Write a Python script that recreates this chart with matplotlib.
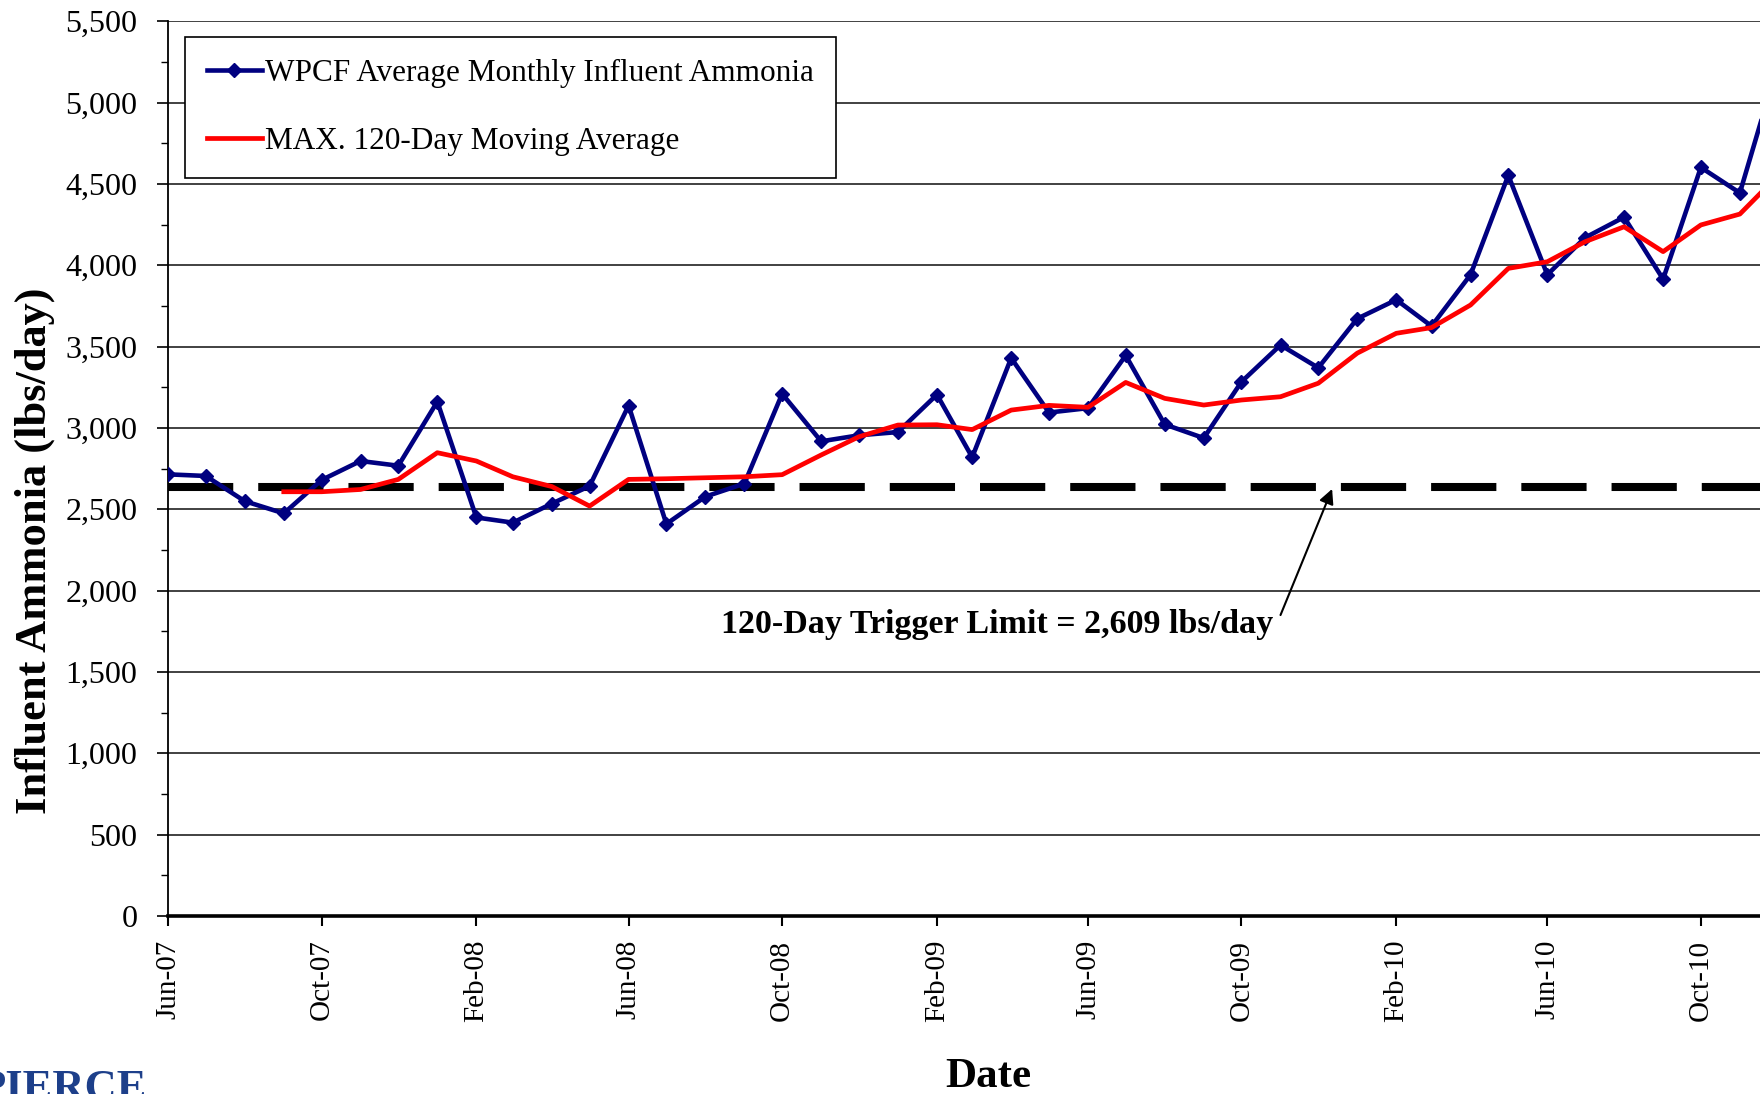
import datetime as dt

import matplotlib
matplotlib.use("Agg")
import matplotlib.pyplot as plt
import matplotlib.dates as mdates
from matplotlib.ticker import FuncFormatter, MultipleLocator

# monthly points, Jun-07 .. Dec-10
months = [dt.date(2007 + (5 + i) // 12, (5 + i) % 12 + 1, 1) for i in range(43)]

influent = [2715, 2705, 2550, 2475, 2680, 2797, 2768, 3162, 2450, 2418,
            2535, 2643, 3138, 2410, 2578, 2658, 3210, 2918, 2955, 2975,
            3205, 2820, 3430, 3095, 3122, 3446, 3022, 2938, 3284, 3510,
            3370, 3672, 3788, 3626, 3942, 4553, 3942, 4170, 4296, 3915,
            4602, 4445, 5230]

# 120-day moving average starts with the 4th month (Sep-07)
moving_avg = [None, None, None, 2608, 2608, 2622, 2684, 2848, 2797, 2700,
              2640, 2520, 2684, 2688, 2694, 2700, 2713, 2834, 2946, 3018,
              3020, 2990, 3110, 3139, 3127, 3280, 3182, 3141, 3172, 3192,
              3275, 3460, 3582, 3617, 3756, 3981, 4022, 4145, 4237, 4084,
              4248, 4315, 4550]

trigger_line = 2640
trigger_text = "120-Day Trigger Limit = 2,609 lbs/day"

serif = "Liberation Serif"

fig = plt.figure(figsize=(17.6, 10.94), dpi=100)
ax = fig.add_axes([168 / 1760, 178 / 1094, 1 - 168 / 1760, 894.7 / 1094])

ma_x = [m for m, v in zip(months, moving_avg) if v is not None]
ma_y = [v for v in moving_avg if v is not None]

ax.plot(months, influent, color="#000080", lw=3.3, marker="D", ms=7.5,
        label="WPCF Average Monthly Influent Ammonia", zorder=4)
ax.plot(ma_x, ma_y, color="#ff0000", lw=3.4,
        label="MAX. 120-Day Moving Average", zorder=5)
ax.axhline(trigger_line, color="black", lw=5.8, dashes=(8.1, 3.1),
           dash_capstyle="butt", zorder=3)

ax.set_xlim(dt.date(2007, 6, 1), dt.date(2010, 11, 17))
ax.set_ylim(0, 5500)

ax.yaxis.set_major_locator(MultipleLocator(500))
ax.yaxis.set_minor_locator(MultipleLocator(250))
ax.yaxis.set_major_formatter(FuncFormatter(lambda v, p: f"{v:,.0f}"))
ax.xaxis.set_major_locator(mdates.MonthLocator(bymonth=[2, 6, 10]))
ax.xaxis.set_major_formatter(mdates.DateFormatter("%b-%y"))

ax.grid(axis="y", which="major", color="#333333", lw=1.3, zorder=1)
ax.set_axisbelow(True)
for side in ["top", "right"]:
    ax.spines[side].set_visible(False)
ax.spines["left"].set_linewidth(1.3)
ax.spines["bottom"].set_linewidth(2.6)

ax.tick_params(axis="y", which="major", direction="out", length=8, width=1.2,
               pad=14, labelsize=23)
ax.tick_params(axis="y", which="minor", direction="out", length=5, width=1.0)
ax.tick_params(axis="x", direction="out", length=7, width=1.5, pad=10,
               labelsize=21, labelrotation=90)
for lbl in ax.get_xticklabels() + ax.get_yticklabels():
    lbl.set_fontfamily(serif)

ax.set_ylabel("Influent Ammonia (lbs/day)", fontfamily=serif, fontsize=32,
              fontweight="bold")
ax.yaxis.set_label_coords(-0.071, 0.408)
fig.text(988 / 1760, 7 / 1094, "Date", fontfamily=serif, fontsize=31,
         fontweight="bold", ha="center", va="baseline")

leg = ax.legend(loc="upper left", bbox_to_anchor=(0.0107, 0.9825),
                borderaxespad=0, prop={"family": serif, "size": 22.5},
                handlelength=1.75, handletextpad=0.12, labelspacing=1.25,
                borderpad=0.7, fancybox=False, framealpha=1,
                edgecolor="black")
leg.get_frame().set_linewidth(1.2)

ax.text(dt.date(2009, 3, 21), 1795, trigger_text, fontfamily=serif,
        fontsize=24.5, fontweight="bold", ha="center", va="center")
ax.annotate("", xy=(dt.date(2009, 12, 12), trigger_line - 15),
            xytext=(dt.date(2009, 11, 1), 1850),
            arrowprops=dict(arrowstyle="-|>", color="black", lw=1.5,
                            mutation_scale=22, shrinkA=0, shrinkB=0))

fig.text(-22 / 1760, 1 - 1069 / 1094, "PIERCE", color="#1d3f8a",
         fontfamily="Liberation Serif", fontsize=32, fontweight="bold",
         va="top", ha="left")

fig.savefig("out.png", dpi=100)
